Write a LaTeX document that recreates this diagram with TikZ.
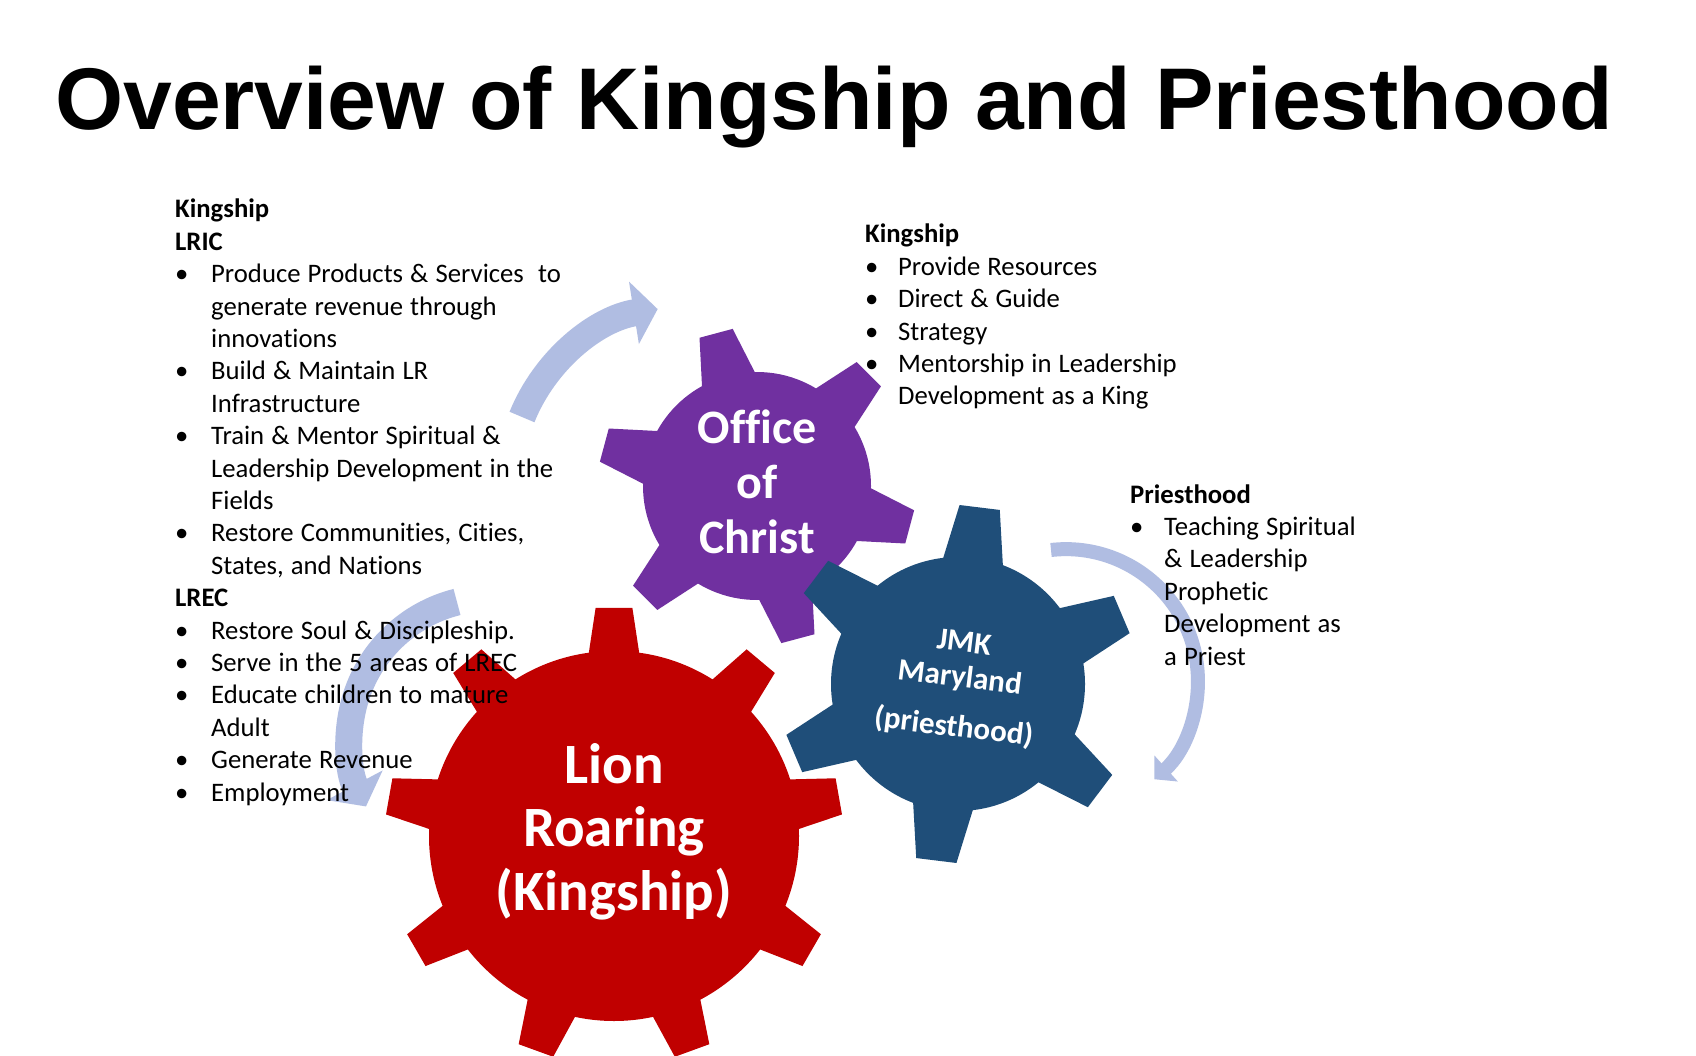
\documentclass[tikz,border=0pt]{standalone}
\usepackage{fontspec}
\setmainfont{Carlito}[Ligatures=NoCommon]
\newfontfamily\titlefont{Liberation Sans}
\usetikzlibrary{arrows.meta}
\definecolor{kingred}{RGB}{192,0,0}
\definecolor{christpurple}{RGB}{112,48,160}
\definecolor{priestblue}{RGB}{31,78,121}
\definecolor{turnblue}{RGB}{176,189,226}
\newcommand\kbul[1][36pt]{\makebox[#1][l]{•}}
\newcommand\kind[1][36pt]{\hspace*{#1}}
\newcommand\tightsp{\spaceskip=7.1pt plus 1pt minus 1pt\relax}
\begin{document}
\begin{tikzpicture}[x=1pt,y=-1pt,
    turnarrow/.style={draw=turnblue,line width=27pt,-{Triangle[width=62pt,length=24pt]}},
    gearlabel/.style={text=white,align=center,text width=320pt,anchor=base,inner sep=0pt},
    listblock/.style={text=black,align=left,anchor=base west,inner sep=0pt,font=\fontsize{26.7}{32.4}\selectfont}]
  \useasboundingbox (0,0) rectangle (1696,1056);
  \fill[white] (0,0) rectangle (1696,1056);

  \coordinate (upstart) at (522,417);
  \coordinate (leftstart) at (457,602);
  \coordinate (rightstart) at (1051,550);
  \draw[turnarrow] (upstart) arc[start angle=202,end angle=261,radius=176];
  \draw[turnarrow] (leftstart) arc[start angle=256,end angle=152,radius=142];
  \draw[turnarrow,line width=14pt,-{Triangle[width=34pt,length=16pt]}] (rightstart) arc[start angle=-96.5,end angle=48,radius=132];

  \begin{scope}[shift={(614,836)}]
    \fill[kingred] (0,0) circle (185);
    \foreach \a in {-90,-50,...,230}
      \fill[kingred] (\a-8.1:182) -- (\a-4.6:229) -- (\a+4.6:229) -- (\a+8.1:182) -- cycle;
    \node[gearlabel,font=\bfseries\fontsize{57}{63.5}\selectfont] (lion) at (0,-53) {Lion\\Roaring\\(Kingship)};
  \end{scope}

  \begin{scope}[shift={(757,486)}]
    \fill[christpurple] (0,0) circle (114);
    \foreach \a in {15,75,...,315}
      \fill[christpurple] (\a-14.6:111) -- (\a-6.2:159) -- (\a+6.2:159) -- (\a+14.6:111) -- cycle;
    \node[gearlabel,font=\bfseries\fontsize{48}{55}\selectfont] (christ) at (0,-43) {Office\\of\\Christ};
  \end{scope}

  \begin{scope}[shift={(958,684)}]
    \fill[priestblue] (0,0) circle (127);
    \foreach \a in {37,97,...,337}
      \fill[priestblue] (\a-14.3:124) -- (\a-6.5:179) -- (\a+6.5:179) -- (\a+14.3:124) -- cycle;
    \node[gearlabel,rotate=-7,font=\bfseries\fontsize{31}{35}\selectfont] (jmk) at (5,-32) {JMK\\Maryland\\[15pt](priesthood)};
  \end{scope}

  \begin{scope}[every node/.style={listblock}]
    \node[text width=450pt] (lrlist) at (175,218) {\tightsp\textbf{Kingship}\\
      \textbf{LRIC}\\
      \kbul Produce Products \& Services\ \ to\\
      \kind generate revenue through\\
      \kind innovations\\
      \kbul Build \& Maintain LR\\
      \kind Infrastructure\\
      \kbul Train \& Mentor Spiritual \&\\
      \kind Leadership Development in the\\
      \kind Fields\\
      \kbul Restore Communities, Cities,\\
      \kind States, and Nations\\
      \textbf{LREC}\\
      \kbul Restore Soul \& Discipleship.\\
      \kbul Serve in the 5 areas of LREC\\
      \kbul Educate children to mature\\
      \kind Adult\\
      \kbul Generate Revenue\\
      \kbul Employment};
    \node[text width=380pt] (kinglist) at (865,243) {\tightsp\textbf{Kingship}\\
      \kbul[33pt]Provide Resources\\
      \kbul[33pt]Direct \& Guide\\
      \kbul[33pt]Strategy\\
      \kbul[33pt]Mentorship in Leadership\\
      \kind[33pt]Development as a King};
    \node[text width=320pt] (priestlist) at (1130,503) {\tightsp\textbf{Priesthood}\\
      \kbul[34pt]Teaching Spiritual\\
      \kind[34pt]\& Leadership\\
      \kind[34pt]Prophetic\\
      \kind[34pt]Development as\\
      \kind[34pt]a Priest};
  \end{scope}

  \node[anchor=base west,inner sep=0pt,font=\titlefont\bfseries\fontsize{87.6}{100}\selectfont] (title) at (55,130) {Overview of Kingship and Priesthood};
\end{tikzpicture}
\end{document}
